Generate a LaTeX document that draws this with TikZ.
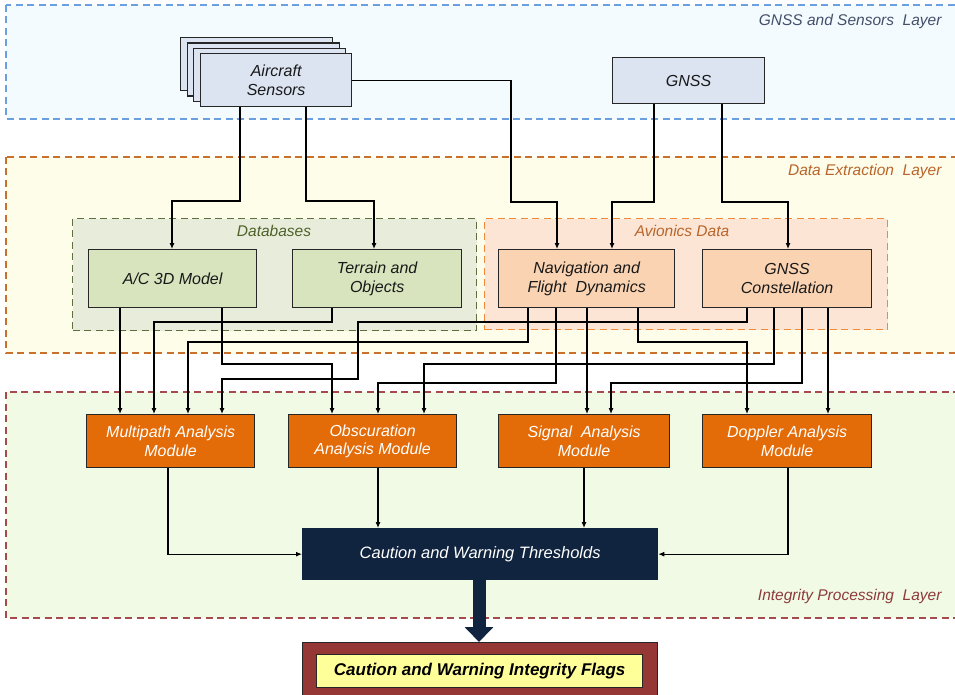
\documentclass[tikz,border=0pt]{standalone}
\usepackage{fontspec}
\setmainfont{Liberation Sans}
\usetikzlibrary{arrows.meta}
\definecolor{lonefill}{HTML}{F3FBFF}
\definecolor{loneline}{HTML}{6A9FE0}
\definecolor{ltwofill}{HTML}{FEFDEA}
\definecolor{ltwoline}{HTML}{C8702C}
\definecolor{lthreefill}{HTML}{F1FAE5}
\definecolor{lthreeline}{HTML}{A64B4B}
\definecolor{dbfill}{HTML}{E8EDDB}
\definecolor{dbline}{HTML}{5F7040}
\definecolor{avfill}{HTML}{FCE5D5}
\definecolor{avline}{HTML}{EE8A3A}
\definecolor{sensfill}{HTML}{DCE3F1}
\definecolor{acmfill}{HTML}{D7E4BD}
\definecolor{navfill}{HTML}{FAD3B2}
\definecolor{modfill}{HTML}{E36C09}
\definecolor{thfill}{HTML}{10243F}
\definecolor{flagout}{HTML}{953735}
\definecolor{flagin}{HTML}{FFFF99}
\definecolor{lonetext}{HTML}{44506A}
\definecolor{ltwotext}{HTML}{B9652A}
\definecolor{dbtext}{HTML}{4F6228}
\definecolor{lthreetext}{HTML}{8E3B3B}
\newcommand{\boxfont}{\fontsize{16}{18.5}\selectfont\itshape}
\newcommand{\labfont}{\fontsize{15.5}{18}\selectfont\itshape}
\begin{document}
\begin{tikzpicture}[x=1pt,y=-1pt,
  layerbox/.style={dash pattern=on 7pt off 4.5pt, line width=1.3pt},
  groupbox/.style={dash pattern=on 7pt off 4.5pt, line width=1.3pt, anchor=north west, inner sep=0pt},
  box/.style={draw=black!85, line width=1.3pt, anchor=north west, inner sep=0pt, align=center, font=\boxfont, text=black!90},
  modbox/.style={box, fill=modfill, text=white, minimum height=53pt},
  conn/.style={draw=black, line width=1.1pt, -{Latex[length=6pt,width=5pt]}},
  lab/.style={font=\labfont}
]
\useasboundingbox (0,0) rectangle (955,695);
\begin{scope}
\clip (0,0) rectangle (955,695);
\draw[layerbox, draw=loneline, fill=lonefill] (6,5) rectangle (970,119);
\draw[layerbox, draw=ltwoline, fill=ltwofill] (6,157) rectangle (970,353);
\draw[layerbox, draw=lthreeline, fill=lthreefill] (6,392) rectangle (970,618);
\node[lab, text=lonetext, anchor=east] (lonelab) at (945,21) {GNSS and Sensors\ \ Layer};
\node[lab, text=ltwotext, anchor=east] (ltwolab) at (945,171) {Data Extraction\ \ Layer};
\node[lab, text=lthreetext, anchor=east] (lthreelab) at (945,596) {Integrity Processing\ \ Layer};

% groups
\node[groupbox, draw=dbline, fill=dbfill, minimum width=404pt, minimum height=112pt] (db) at (72,218) {};
\node[lab, text=dbtext] (dblab) at (274,231) {Databases};
\node[groupbox, draw=avline, fill=avfill, minimum width=403pt, minimum height=111pt] (av) at (484,218) {};
\node[lab, text=ltwotext] (avlab) at (682,231) {Avionics Data};

% sensors
\node[box, fill=sensfill, minimum width=152pt, minimum height=53pt] (sensc) at (180,37) {};
\node[box, fill=sensfill, minimum width=152pt, minimum height=53pt] (sensb) at (186.5,42.5) {};
\node[box, fill=sensfill, minimum width=152pt, minimum height=53pt] (sensa) at (193,48) {};
\node[box, fill=sensfill, minimum width=151pt, minimum height=53pt] (sens) at (200,53) {Aircraft\\Sensors};
\node[box, fill=sensfill, minimum width=152pt, minimum height=46pt] (gnss) at (612,57) {GNSS};

% data boxes
\node[box, fill=acmfill, minimum width=168pt, minimum height=58pt] (acm) at (88,249) {A/C 3D Model};
\node[box, fill=acmfill, minimum width=169pt, minimum height=58pt] (ter) at (292,249) {Terrain and\\Objects};
\node[box, fill=navfill, minimum width=176pt, minimum height=58pt] (nav) at (498,249) {Navigation and\\Flight\ \ Dynamics};
\node[box, fill=navfill, minimum width=169pt, minimum height=58pt] (con) at (702,249) {GNSS\\Constellation};

% modules
\node[modbox, minimum width=168pt] (mp) at (86,414) {Multipath Analysis\\Module};
\node[modbox, minimum width=168pt] (ob) at (288,414) {Obscuration\\Analysis Module};
\node[modbox, minimum width=171pt] (sig) at (498,414) {Signal\ \ Analysis\\Module};
\node[modbox, minimum width=169pt] (dop) at (702,414) {Doppler Analysis\\Module};

% thresholds and flags
\node[box, draw=thfill, fill=thfill, text=white, font=\fontsize{16.5}{19}\selectfont\itshape, minimum width=355pt, minimum height=51pt] (th) at (302,528) {Caution and Warning Thresholds};
\node[box, fill=flagout, minimum width=355pt, minimum height=62pt] (fo) at (302,642) {};
\node[box, fill=flagin, text=black, font=\fontsize{17}{19}\selectfont\bfseries\itshape, minimum width=326pt, minimum height=33pt] (fi) at (316,654) {Caution and Warning Integrity Flags};

% connectors top
\draw[conn] (sens.east) -| (511,202) -| (557,0 |- nav.north);
\draw[conn] (240,0 |- sens.south) -- (240,201) -| (172,0 |- acm.north);
\draw[conn] (306,0 |- sens.south) -- (306,201) -| (374,0 |- ter.north);
\draw[conn] (654,0 |- gnss.south) -- (654,202) -| (612,0 |- nav.north);
\draw[conn] (722,0 |- gnss.south) -- (722,202) -| (788,0 |- con.north);

% connectors middle
\draw[conn] (120,0 |- acm.south) -- (120,0 |- mp.north);
\draw[conn] (332,0 |- ter.south) -- (332,322) -| (154,0 |- mp.north);
\draw[conn] (528,0 |- nav.south) -- (528,342) -| (188,0 |- mp.north);
\draw[conn] (747,0 |- con.south) -- (747,322) -| (358,379) -| (222,0 |- mp.north);
\draw[conn] (222,0 |- acm.south) -- (222,364) -| (332,0 |- ob.north);
\draw[conn] (556,0 |- nav.south) -- (556,383) -| (378,0 |- ob.north);
\draw[conn] (774,0 |- con.south) -- (774,364) -| (424,0 |- ob.north);
\draw[conn] (587,0 |- nav.south) -- (587,0 |- sig.north);
\draw[conn] (802,0 |- con.south) -- (802,383) -| (611,0 |- sig.north);
\draw[conn] (638,0 |- nav.south) -- (638,342) -| (747,0 |- dop.north);
\draw[conn] (828,0 |- con.south) -- (828,0 |- dop.north);

% connectors bottom
\draw[conn] (168,0 |- mp.south) |- (th.west);
\draw[conn] (378,0 |- ob.south) -- (378,0 |- th.north);
\draw[conn] (584,0 |- sig.south) -- (584,0 |- th.north);
\draw[conn] (788,0 |- dop.south) |- (th.east);
\draw[draw=thfill, line width=13pt, -{Triangle[length=15pt,width=28pt]}] (479,0 |- th.south) -- (479,0 |- fo.north);
\end{scope}
\end{tikzpicture}
\end{document}
